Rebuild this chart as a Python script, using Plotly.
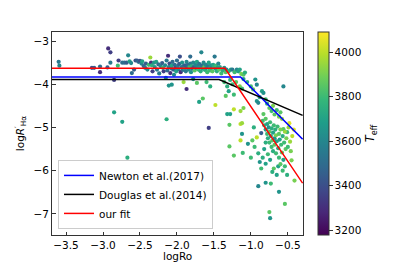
import plotly.graph_objects as go

# --- scatter data: (logRo, logR'Ha, Teff) ---
log_ro = [
    -3.60, -3.59, -3.15, -3.12, -3.04, -3.04, -2.94, -2.93, -2.90, -2.90,
    -2.85, -2.80, -2.79, -2.74, -2.71, -2.68, -2.66, -2.64, -2.62, -2.61,
    -2.58, -2.56, -2.54, -2.52, -2.50, -2.48, -2.47, -2.45, -2.43, -2.42,
    -2.40, -2.38, -2.36, -2.35, -2.34, -2.33, -2.31, -2.30, -2.28, -2.27,
    -2.25, -2.24, -2.22, -2.20, -2.19, -2.18, -2.16, -2.15, -2.14, -2.13,
    -2.12, -2.11, -2.10, -2.09, -2.08, -2.07, -2.06, -2.05, -2.04, -2.03,
    -2.02, -2.01, -2.00, -1.99, -1.98, -1.97, -1.96, -1.95, -1.94, -1.93,
    -1.92, -1.91, -1.90, -1.89, -1.88, -1.87, -1.86, -1.85, -1.84, -1.83,
    -1.82, -1.82, -1.81, -1.80, -1.79, -1.78, -1.77, -1.76, -1.75, -1.74,
    -1.73, -1.72, -1.71, -1.70, -1.69, -1.68, -1.67, -1.66, -1.65, -1.64,
    -1.63, -1.62, -1.61, -1.60, -1.59, -1.58, -1.57, -1.56, -1.55, -1.54,
    -1.53, -1.52, -1.51, -1.50, -1.49, -1.48, -1.47, -1.46, -1.45, -1.44,
    -1.43, -1.42, -1.40, -1.38, -1.36, -1.34, -1.33, -1.30, -1.27, -1.25,
    -1.22, -1.19, -1.17, -1.15, -1.13, -1.10, -1.08,
    -2.85, -2.74, -2.67, -2.14, -2.11, -2.07, -1.91, -1.87, -1.73, -1.70,
    -1.65, -1.78, -1.60, -1.55,
    -1.32, -1.30, -1.23, -1.34, -1.36, -1.28, -1.25, -1.20, -1.15, -1.12,
    -1.10, -1.05, -1.00, -0.97, -0.94, -0.92, -0.85, -0.83, -0.56, -0.92,
    -0.90, -0.88, -0.80, -0.78, -0.75, -0.72, -0.70, -0.68, -0.65, -0.62,
    -0.60, -0.58, -1.48, -1.32, -1.28, -1.23, -1.14, -1.10, -1.57, -1.29,
    -1.14, -1.12, -1.12, -1.14, -1.04, -1.29, -1.11, -1.23, -0.96, -0.92,
    -0.86, -0.83, -0.47, -0.56, -0.51, -0.45,
    -0.84, -0.82, -0.80, -0.80, -0.78, -0.78, -0.77, -0.76, -0.75, -0.75,
    -0.74, -0.73, -0.72, -0.72, -0.71, -0.70, -0.70, -0.69, -0.68, -0.68,
    -0.67, -0.66, -0.66, -0.65, -0.64, -0.63, -0.62, -0.62, -0.61, -0.60,
    -0.59, -0.58, -0.57, -0.56, -0.55, -0.54, -0.53, -0.52, -0.50, -0.49,
    -0.48, -0.82, -0.80, -0.77, -0.74, -0.80, -0.69, -0.71, -0.63, -0.54,
    -0.51, -0.41, -0.90, -0.80, -0.73, -0.62, -0.54, -0.75, -0.74, -0.90,
    -0.95, -0.98, -1.00, -0.88, -0.86, -0.84, -0.60, -0.65, -0.57, -0.46,
    -0.44, -0.42,
]
log_rha = [
    -3.48, -3.57, -3.62, -3.62, -3.59, -3.72, -3.61, -3.17, -3.26, -3.50,
    -3.90, -3.57, -3.45, -3.50, -3.50, -3.50, -3.33, -3.47, -3.51, -3.74,
    -3.66, -3.45, -3.45, -3.48, -3.46, -3.52, -3.47, -3.58, -3.62, -3.52,
    -3.66, -3.55, -3.38, -3.50, -3.56, -3.70, -3.50, -3.60, -3.48, -3.66,
    -3.54, -3.75, -3.58, -3.51, -3.62, -3.70, -3.56, -3.85, -3.45, -3.68,
    -3.34, -3.60, -3.52, -3.74, -3.63, -3.57, -3.48, -3.66, -3.78, -3.55,
    -3.62, -3.70, -3.45, -3.58, -3.65, -3.53, -3.36, -3.72, -3.60, -3.50,
    -3.67, -3.58, -3.63, -3.56, -3.70, -3.48, -3.62, -3.55, -3.66, -3.60,
    -3.36, -3.52, -3.72, -3.58, -3.64, -3.50, -3.60, -3.68, -3.55, -3.62,
    -3.48, -3.58, -3.66, -3.53, -3.61, -3.70, -3.26, -3.56, -3.64, -3.50,
    -3.60, -3.67, -3.55, -3.62, -3.72, -3.58, -3.50, -3.64, -3.68, -3.56,
    -3.62, -3.70, -3.55, -3.60, -3.36, -3.64, -3.57, -3.70, -3.62, -3.52,
    -3.66, -3.60, -3.75, -3.68, -3.62, -3.72, -3.66, -3.70, -3.66, -3.66,
    -3.72, -3.66, -3.70, -3.66, -3.76, -3.78, -3.73,
    -4.65, -4.87, -5.70, -4.81, -4.03, -4.01, -3.95, -4.11, -3.97, -4.41,
    -4.33, -3.88, -3.95, -4.05,
    -4.05, -4.16, -4.24, -4.27, -3.95, -3.90, -4.00, -3.95, -4.05, -4.10,
    -3.88, -3.95, -4.05, -4.12, -3.89, -4.01, -4.16, -4.20, -4.05, -4.39,
    -4.43, -4.30, -4.35, -4.45, -4.55, -4.62, -4.50, -4.70, -4.60, -4.75,
    -4.65, -4.80, -4.48, -4.69, -4.69, -4.58, -4.62, -4.55, -5.01, -4.94,
    -4.92, -4.90, -5.15, -5.30, -5.38, -5.44, -5.59, -5.65, -5.00, -5.23,
    -5.13, -4.69, -5.33, -5.04, -5.11, -5.76,
    -4.85, -4.95, -5.05, -4.80, -5.15, -4.92, -5.25, -5.00, -5.35, -5.10,
    -4.88, -5.20, -5.45, -5.02, -5.30, -5.12, -5.55, -4.95, -5.25, -5.40,
    -5.05, -5.60, -5.18, -5.32, -4.98, -5.48, -5.15, -5.70, -5.28, -5.05,
    -5.40, -5.58, -5.20, -5.75, -5.35, -5.10, -5.50, -5.25, -5.45, -5.00,
    -4.90, -5.50, -5.35, -5.62, -5.75, -5.84, -5.95, -6.03, -5.90, -5.90,
    -6.10, -6.23, -6.36, -6.28, -6.30, -6.49, -6.77, -6.96, -7.10, -5.60,
    -5.45, -5.30, -5.70, -5.80, -5.95, -5.70, -5.85, -6.10, -6.00, -5.55,
    -5.20, -5.05,
]
teff = [
    3550, 3600, 3400, 3450, 3500, 3300, 3450, 3300, 3350, 3550,
    3350, 3800, 3350, 3500, 3500, 3450, 3600, 3700, 3600, 3500,
    3450, 3400, 3450, 3500, 3400, 3600, 3700, 3500, 3550, 3450,
    3600, 3800, 3950, 3300, 3750, 3350, 3650, 3650, 3700, 3550,
    3500, 3550, 3600, 3450, 3800, 3350, 3600, 3650, 3550, 3500,
    3300, 3600, 3400, 3300, 3550, 3700, 3500, 3450, 3600, 3500,
    3400, 3700, 3500, 3550, 3600, 3450, 3400, 3300, 3550, 3650,
    3500, 3500, 3700, 3450, 3550, 3600, 3500, 3500, 3600, 3800,
    3500, 3550, 3650, 3750, 3500, 3600, 3450, 3850, 3600, 3550,
    3700, 3600, 3800, 3550, 3650, 3750, 3600, 3500, 3700, 3600,
    3850, 3750, 3600, 3650, 3800, 3550, 3700, 3750, 3800, 3650,
    3600, 3850, 3700, 3750, 3550, 3650, 3800, 3750, 3700, 3600,
    3850, 3700, 3800, 3750, 3650, 3850, 3600, 3750, 3700, 3550,
    3800, 3600, 3700, 3700, 3900, 3850, 3750,
    3700, 3700, 3750, 3750, 3650, 3650, 3950, 3300, 3850, 3700,
    3850, 3650, 3800, 3750,
    3750, 3700, 3800, 3850, 3800, 3750, 3800, 3850, 3900, 3800,
    3700, 3750, 3800, 3850, 3650, 3600, 3700, 3650, 3600, 3650,
    3600, 3700, 3800, 3750, 3850, 3800, 3900, 3850, 3800, 3900,
    3850, 3950, 4000, 3700, 3700, 4000, 3950, 3900, 3350, 3850,
    4000, 3950, 3650, 4000, 3650, 3850, 3800, 3850, 3750, 4000,
    3450, 3850, 3950, 3850, 3800, 3900,
    3800, 3750, 3700, 3850, 3800, 3700, 3750, 3650, 3800, 3850,
    3800, 3700, 3800, 3750, 3850, 3700, 3750, 3800, 3650, 3850,
    3750, 3800, 3900, 3700, 3800, 3750, 3850, 3800, 3700, 3900,
    3800, 3850, 3750, 3700, 3800, 3950, 3850, 3900, 3800, 3950,
    4050, 3700, 3750, 3800, 3700, 3700, 3850, 3750, 3700, 3800,
    3750, 3900, 3600, 3650, 3800, 3650, 3850, 3850, 3650, 3750,
    3800, 3850, 3800, 3650, 3800, 3750, 3850, 3700, 3800, 3900,
    4000, 4050,
]

# --- fit lines ---
newton_x = [-3.70, -1.14, -0.30]
newton_y = [-3.83, -3.83, -5.27]
douglas_x = [-3.70, -1.43, -0.30]
douglas_y = [-3.89, -3.89, -4.72]
ours_x = [-3.70, -1.35, -0.30]
ours_y = [-3.63, -3.63, -6.29]

x_ticks = [-3.5, -3.0, -2.5, -2.0, -1.5, -1.0, -0.5]
y_ticks = [-3, -4, -5, -6, -7]
cb_ticks = [3200, 3400, 3600, 3800, 4000]

FONT = "DejaVu Sans"

fig = go.Figure()
fig.add_trace(go.Scatter(
    x=log_ro, y=log_rha, mode="markers", showlegend=False,
    marker=dict(
        size=4.2, color=teff, colorscale="Viridis", cmin=3178, cmax=4090,
        line=dict(width=0),
        colorbar=dict(
            x=1.0595, xanchor="left", xpad=0, y=0.5, yanchor="middle",
            len=1.0, lenmode="fraction", thickness=11, ypad=0,
            outlinewidth=1, outlinecolor="#333333",
            tickvals=cb_ticks, ticktext=[str(t) for t in cb_ticks],
            ticks="outside", ticklen=3.5, tickcolor="#333333",
            tickfont=dict(family=FONT, size=10.5, color="black"),
            title=dict(text="<i>T</i><sub>eff</sub>", side="right",
                       font=dict(family=FONT, size=11.5, color="black")),
        ),
    ),
))
fig.add_trace(go.Scatter(x=newton_x, y=newton_y, mode="lines",
                         line=dict(color="blue", width=1.5),
                         name="Newton et al.(2017)"))
fig.add_trace(go.Scatter(x=douglas_x, y=douglas_y, mode="lines",
                         line=dict(color="black", width=1.5),
                         name="Douglas et al.(2014)"))
fig.add_trace(go.Scatter(x=ours_x, y=ours_y, mode="lines",
                         line=dict(color="red", width=1.5),
                         name="our fit"))

axis_common = dict(
    showline=True, linecolor="#333333", linewidth=1, mirror=True,
    ticks="inside", ticklen=3.5, tickcolor="#333333", showgrid=False,
    zeroline=False, tickfont=dict(family=FONT, size=10.5, color="black"),
)
fig.update_xaxes(range=[-3.69, -0.295], tickvals=x_ticks,
                 ticktext=["−3.5", "−3.0", "−2.5", "−2.0", "−1.5", "−1.0", "−0.5"],
                 **axis_common)
fig.update_yaxes(range=[-7.49, -2.79], tickvals=y_ticks,
                 ticktext=["−3", "−4", "−5", "−6", "−7"],
                 title=dict(text="log<i>R</i><sup>′</sup><sub>Hα</sub>", standoff=6,
                            font=dict(family=FONT, size=10.5, color="black")),
                 **axis_common)

fig.add_annotation(text="logRo", xref="paper", yref="paper", x=0.5, y=-0.102,
                   xanchor="center", yanchor="middle", showarrow=False,
                   font=dict(family=FONT, size=10.5, color="black"))

# The page body has an 8 px margin, so the figure is sized to fit inside it.
fig.update_layout(
    width=391, height=255,
    margin=dict(l=43, r=96, t=24, b=26),
    paper_bgcolor="white", plot_bgcolor="white",
    font=dict(family=FONT, size=10.5, color="black"),
    legend=dict(x=0.024, y=0.03, xanchor="left", yanchor="bottom",
                bgcolor="rgba(255,255,255,0.85)", bordercolor="#cccccc",
                borderwidth=1, font=dict(family=FONT, size=10.5, color="black"),
                tracegroupgap=0, itemwidth=30),
)

fig.write_html("out.html")
